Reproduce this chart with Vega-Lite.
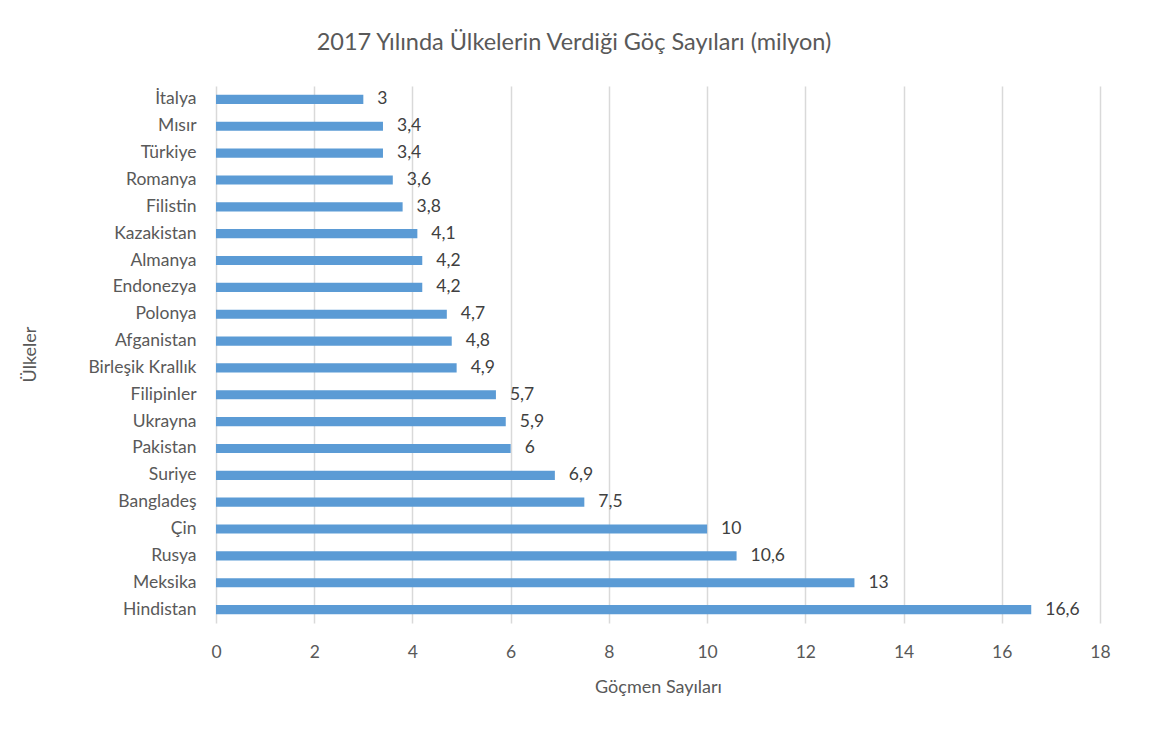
{
  "$schema": "https://vega.github.io/schema/vega-lite/v6.json",
  "autosize": {"type": "none"},
  "padding": {"left": 216, "top": 86, "right": 53, "bottom": 108},
  "width": 884,
  "height": 537,
  "background": "white",
  "config": {
    "font": "Lato",
    "view": {"stroke": null},
    "locale": {"number": {"decimal": ",", "thousands": ".", "grouping": [3], "currency": ["", ""]}}
  },
  "title": {
    "text": "2017 Yılında Ülkelerin Verdiği Göç Sayıları (milyon)",
    "fontSize": 23.5,
    "fontWeight": "normal",
    "color": "#595959",
    "anchor": "middle",
    "baseline": "bottom",
    "offset": 8,
    "dx": -84
  },
  "data": {
    "values": [
      {"ulke": "İtalya", "deger": 3},
      {"ulke": "Mısır", "deger": 3.4},
      {"ulke": "Türkiye", "deger": 3.4},
      {"ulke": "Romanya", "deger": 3.6},
      {"ulke": "Filistin", "deger": 3.8},
      {"ulke": "Kazakistan", "deger": 4.1},
      {"ulke": "Almanya", "deger": 4.2},
      {"ulke": "Endonezya", "deger": 4.2},
      {"ulke": "Polonya", "deger": 4.7},
      {"ulke": "Afganistan", "deger": 4.8},
      {"ulke": "Birleşik Krallık", "deger": 4.9},
      {"ulke": "Filipinler", "deger": 5.7},
      {"ulke": "Ukrayna", "deger": 5.9},
      {"ulke": "Pakistan", "deger": 6},
      {"ulke": "Suriye", "deger": 6.9},
      {"ulke": "Bangladeş", "deger": 7.5},
      {"ulke": "Çin", "deger": 10},
      {"ulke": "Rusya", "deger": 10.6},
      {"ulke": "Meksika", "deger": 13},
      {"ulke": "Hindistan", "deger": 16.6}
    ]
  },
  "encoding": {
    "y": {
      "field": "ulke",
      "type": "nominal",
      "sort": null,
      "scale": {"paddingInner": 0.66, "paddingOuter": 0.33},
      "axis": {
        "title": "Ülkeler",
        "titleFontSize": 18,
        "titleFontWeight": "normal",
        "titleColor": "#595959",
        "titleX": -186,
        "titleY": 268,
        "titleAlign": "center",
        "titleBaseline": "middle",
        "labelFontSize": 17.5,
        "labelColor": "#595959",
        "labelPadding": 20,
        "ticks": false,
        "domain": false,
        "grid": false
      }
    },
    "x": {
      "field": "deger",
      "type": "quantitative",
      "scale": {"domain": [0, 18], "nice": false},
      "axis": {
        "title": "Göçmen Sayıları",
        "titleFontSize": 18,
        "titleFontWeight": "normal",
        "titleColor": "#595959",
        "titleX": 442,
        "titleY": 64,
        "titleAlign": "center",
        "titleBaseline": "middle",
        "values": [0, 2, 4, 6, 8, 10, 12, 14, 16, 18],
        "format": "d",
        "labelFontSize": 17.5,
        "labelColor": "#595959",
        "labelPadding": 20,
        "labelFlush": false,
        "ticks": false,
        "domain": false,
        "grid": true,
        "gridColor": "#d9d9d9",
        "gridWidth": 1.5
      }
    }
  },
  "layer": [
    {"mark": {"type": "bar", "color": "#5b9bd5"}},
    {
      "mark": {"type": "text", "align": "left", "baseline": "middle", "dx": 14, "fontSize": 17.5, "color": "#404040"},
      "encoding": {"text": {"field": "deger", "type": "quantitative"}}
    }
  ]
}
